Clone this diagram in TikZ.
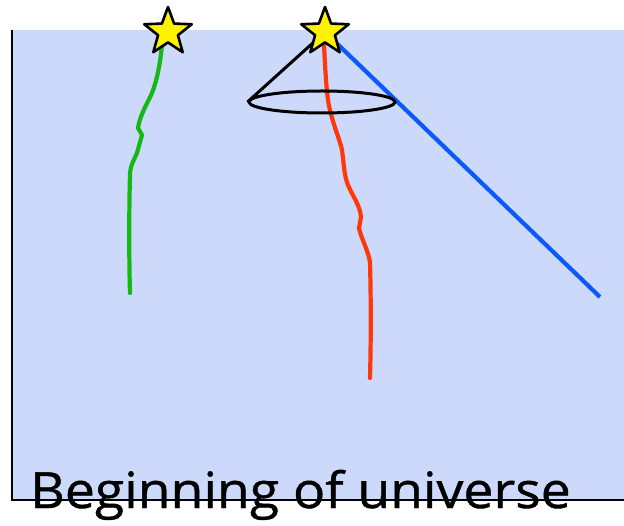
\documentclass[tikz,border=0pt]{standalone}
\usepackage{fontspec}
\newfontfamily\capfont{Open Sans}[FakeBold=0.8]
\usetikzlibrary{shapes.geometric}
\pgfdeclarelayer{back}
\pgfdeclarelayer{mid}
\pgfsetlayers{back,mid,main}
\definecolor{bgblue}{RGB}{204,217,250}
\definecolor{wgreen}{RGB}{20,185,20}
\definecolor{wred}{RGB}{255,55,10}
\definecolor{wblue}{RGB}{10,90,250}
\definecolor{syellow}{RGB}{255,242,0}
\tikzset{
  starnode/.style={star, star points=5, star point ratio=2.4, minimum size=50pt, inner sep=0pt,
    fill=syellow, draw=black, line width=2.6pt, line join=round},
  worldline/.style={line width=4.2pt, line cap=round, line join=round},
  conestyle/.style={draw=black, line width=3pt},
  axisstyle/.style={draw=black, line width=2.4pt},
  caption/.style={font=\capfont\fontsize{50}{55}\selectfont, inner sep=0pt, anchor=base west, xscale=1.07, transform shape}
}
\begin{document}
\begin{tikzpicture}[x=1pt,y=1pt]
\useasboundingbox (0,0) rectangle (624,-526);
\begin{pgfonlayer}{back}
  \fill[bgblue] (12,-30) rectangle (624,-500);
\end{pgfonlayer}
\node[starnode] (star1) at (168,-32) {};
\node[starnode] (star2) at (325,-32) {};
\coordinate (gend) at (130,-293);
\coordinate (rend) at (370,-378);
\coordinate (bend) at (600,-297);
\coordinate (axtop) at (12,-30);
\coordinate (axorig) at (12,-500);
\coordinate (axright) at (624,-500);
\node[ellipse, draw=black, line width=3pt, minimum width=146pt, minimum height=22pt, inner sep=0pt] (base) at (322,-102) {};
\begin{pgfonlayer}{mid}
  \draw[worldline, draw=wgreen] (star1.center) -- (162,-45) .. controls (160,-65) and (157,-80) .. (152,-93)
     .. controls (147,-104) and (140,-115) .. (138,-128) -- (142,-135) -- (137,-153)
     .. controls (134,-160) and (130,-166) .. (130,-175) .. controls (129,-210) and (129,-260) .. (gend);
  \draw[worldline, draw=wred] (star2.center) -- (324,-45) .. controls (325,-65) and (326,-85) .. (328,-100)
     .. controls (331,-120) and (340,-140) .. (342,-150) .. controls (344,-165) and (344,-175) .. (348,-185)
     .. controls (352,-195) and (360,-205) .. (361,-217) -- (359,-228) .. controls (361,-238) and (368,-250) .. (370,-262)
     .. controls (371,-300) and (371,-340) .. (rend);
  \draw[worldline, draw=wblue, line cap=butt] (star2.center) -- (bend);
  \draw[conestyle] (star2.center) -- (base.west);
\end{pgfonlayer}
\draw[axisstyle] (axtop) -- (axorig) -- (axright);
\node[caption] (cap) at (30,-508) {Beginning of universe};
\end{tikzpicture}
\end{document}
